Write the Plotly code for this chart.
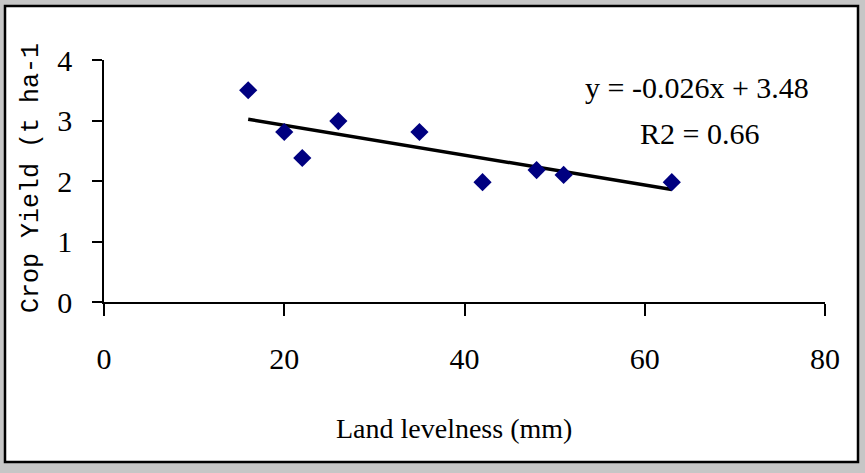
import plotly.graph_objects as go

# Data
levelness = [16, 20, 22, 26, 35, 42, 48, 51, 63]
crop_yield = [3.5, 2.81, 2.38, 2.99, 2.81, 1.98, 2.18, 2.1, 1.98]
trend_x = [16, 63]
trend_y = [3.02, 1.86]
x_ticks = [0, 20, 40, 60, 80]
y_ticks = [0, 1, 2, 3, 4]
equation_text = "y = -0.026x + 3.48"
r2_text = "R2 = 0.66"
x_title = "Land levelness (mm)"
y_title = "Crop Yield (t ha-1"

W, H = 865, 473
L, R, T, B = 104, 40, 60, 171
PW, PH = W - L - R, H - T - B


def px(p):
    return (p - L) / PW


def py(q):
    return (H - B - q) / PH


fig = go.Figure()
fig.add_trace(go.Scatter(x=trend_x, y=trend_y, mode="lines",
                         line=dict(color="black", width=3.5), showlegend=False))
fig.add_trace(go.Scatter(x=levelness, y=crop_yield, mode="markers",
                         marker=dict(symbol="diamond", size=14, color="#000080"),
                         showlegend=False))

serif = "Liberation Serif"
fig.update_layout(
    width=W, height=H,
    margin=dict(l=L, r=R, t=T, b=B),
    paper_bgcolor="#c6c6c6",
    plot_bgcolor="white",
    xaxis=dict(range=[0, 80], tickvals=x_ticks, showgrid=False, zeroline=False,
               showline=True, linecolor="black", linewidth=1.5,
               ticks="outside", ticklen=12, tickwidth=1.5, tickcolor="black",
               ticklabelstandoff=17,
               tickfont=dict(family=serif, size=30, color="black")),
    yaxis=dict(range=[0, 4], tickvals=y_ticks, showgrid=False, zeroline=False,
               showline=True, linecolor="black", linewidth=1.5,
               ticks="outside", ticklen=10, tickwidth=1.5, tickcolor="black",
               ticklabelstandoff=14,
               tickfont=dict(family=serif, size=30, color="black")),
    shapes=[dict(type="rect", xref="paper", yref="paper", layer="below",
                 x0=px(5), x1=px(858), y0=py(462), y1=py(6),
                 fillcolor="white", line=dict(color="black", width=2.5))],
    annotations=[
        dict(text=x_title, xref="paper", yref="paper", x=px(454), y=py(428),
             showarrow=False, xanchor="center", yanchor="middle",
             font=dict(family=serif, size=28, color="black")),
        dict(text=y_title, xref="paper", yref="paper", x=px(31), y=py(178),
             showarrow=False, textangle=-90, xanchor="center", yanchor="middle",
             font=dict(family="Liberation Mono", size=25, color="black")),
        dict(text=equation_text, xref="paper", yref="paper", x=px(697), y=py(88),
             showarrow=False, xanchor="center", yanchor="middle",
             font=dict(family=serif, size=30, color="black")),
        dict(text=r2_text, xref="paper", yref="paper", x=px(699), y=py(133),
             showarrow=False, xanchor="center", yanchor="middle",
             font=dict(family=serif, size=30, color="black")),
    ],
)

fig.write_html("out.html", config={"displayModeBar": False},
               post_script="document.body.style.margin='0';document.body.style.overflow='hidden';")
